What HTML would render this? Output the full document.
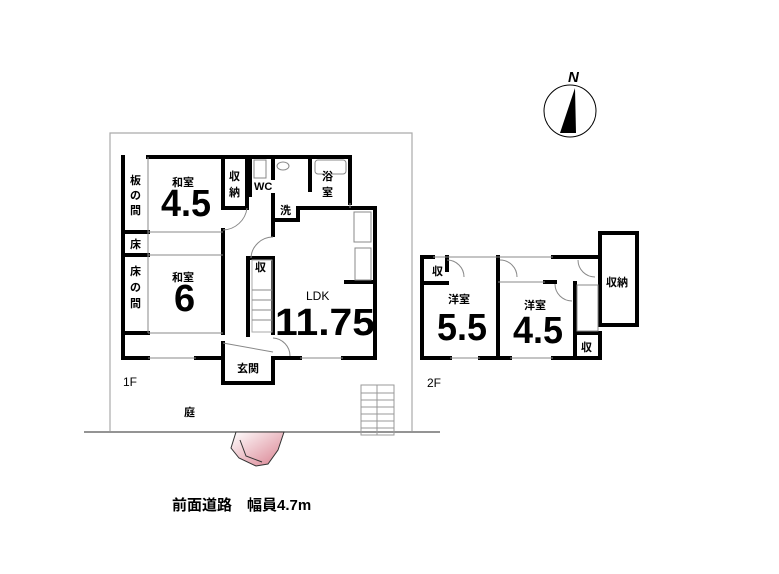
<!DOCTYPE html>
<html><head><meta charset="utf-8"><style>
html,body{margin:0;padding:0;background:#fff;}
svg{display:block;}
text{font-family:"Liberation Sans","Noto Sans CJK JP",sans-serif;fill:#000;}
.b{font-weight:bold;}
</style></head><body>
<svg width="779" height="574" viewBox="0 0 779 574" xmlns="http://www.w3.org/2000/svg">
<rect width="779" height="574" fill="#fff"/>
<polyline points="110,431 110,133 412,133 412,431" fill="none" stroke="#aaa" stroke-width="1.2"/>
<line x1="84" y1="432" x2="440" y2="432" stroke="#555" stroke-width="1.2"/>
<g stroke="#999" stroke-width="1" fill="none">
<rect x="361" y="385" width="33" height="50"/>
<line x1="361" y1="393" x2="394" y2="393"/><line x1="361" y1="400" x2="394" y2="400"/>
<line x1="361" y1="407" x2="394" y2="407"/><line x1="361" y1="414" x2="394" y2="414"/>
<line x1="361" y1="421" x2="394" y2="421"/><line x1="361" y1="428" x2="394" y2="428"/>
<line x1="377" y1="385" x2="377" y2="435"/>
</g>
<defs><linearGradient id="cg" x1="0" y1="0" x2="1" y2="1"><stop offset="0" stop-color="#fff"/><stop offset="1" stop-color="#d9808f"/></linearGradient></defs>
<path d="M236,432 L284,432 L278,450 L268,464 L256,466 L239,458 L231,448 Z" fill="url(#cg)" stroke="#333" stroke-width="1"/>
<path d="M240,440 L246,456 L262,462" fill="none" stroke="#333" stroke-width="1"/>
<g fill="none" stroke="#000" stroke-width="4" stroke-linecap="square">
<polyline points="148,157 350,157 350,203"/>
<polyline points="298,220 273,220 273,235"/>
<line x1="273" y1="195" x2="273" y2="220"/>
<polyline points="298,220 298,208 375,208 375,358 343,358"/>
<polyline points="123,157 123,358 148,358"/>
<line x1="196" y1="358" x2="223" y2="358"/>
<line x1="273" y1="358" x2="300" y2="358"/>
<polyline points="223,343 223,383 273,383 273,358"/>
<line x1="123" y1="232" x2="148" y2="232"/><line x1="123" y1="255" x2="148" y2="255"/>
<line x1="123" y1="333" x2="148" y2="333"/>
<polyline points="223,157 223,208 247,208 247,157"/>
<line x1="223" y1="230" x2="223" y2="333"/>
<polyline points="248,335 248,258 273,258"/>
<line x1="273" y1="258" x2="273" y2="333"/>
<line x1="273" y1="157" x2="273" y2="178"/>
<line x1="250" y1="157" x2="250" y2="195"/>
<line x1="310" y1="157" x2="310" y2="190"/>
<line x1="346" y1="282" x2="375" y2="282"/>
</g>
<g fill="none" stroke="#888" stroke-width="1">
<line x1="148" y1="157" x2="148" y2="333"/>
<line x1="148" y1="232" x2="223" y2="232"/>
<line x1="148" y1="255" x2="223" y2="255"/>
<line x1="148" y1="333" x2="223" y2="333"/>
<line x1="148" y1="358" x2="196" y2="358"/>
<line x1="300" y1="358" x2="343" y2="358"/>
<line x1="223" y1="343" x2="273" y2="352"/>
<line x1="350" y1="203" x2="350" y2="208"/>
<path d="M247,208 A25,25 0 0 1 223,230"/>
<path d="M273,237 A22,22 0 0 0 251,258"/>
<path d="M273,338 A18,18 0 0 1 290,356"/>
<rect x="354" y="212" width="17" height="30"/>
<rect x="355" y="248" width="16" height="32"/>
<rect x="252" y="260" width="20" height="72" stroke="#aaa"/>
<line x1="252" y1="290" x2="272" y2="290"/><line x1="252" y1="300" x2="272" y2="300"/>
<line x1="252" y1="310" x2="272" y2="310"/><line x1="252" y1="320" x2="272" y2="320"/>
<rect x="254" y="160" width="12" height="18"/>
<ellipse cx="283" cy="166" rx="6" ry="4"/>
<rect x="315" y="160" width="31" height="14" rx="3"/>
</g>
<g fill="none" stroke="#000" stroke-width="4" stroke-linecap="square">
<polyline points="433,257 422,257 422,358 450,358"/>
<line x1="480" y1="358" x2="510" y2="358"/>
<polyline points="553,358 600,358 600,333 575,333"/>
<line x1="575" y1="283" x2="575" y2="358"/>
<line x1="553" y1="257" x2="600" y2="257"/>
<line x1="498" y1="257" x2="498" y2="358"/>
<line x1="422" y1="283" x2="447" y2="283"/>
<line x1="447" y1="257" x2="447" y2="270"/>
<line x1="545" y1="282" x2="555" y2="282"/>
<rect x="600" y="233" width="37" height="92"/>
</g>
<g fill="none" stroke="#888" stroke-width="1">
<line x1="433" y1="257" x2="553" y2="257"/>
<line x1="450" y1="358" x2="480" y2="358"/>
<line x1="510" y1="358" x2="553" y2="358"/>
<line x1="498" y1="282" x2="545" y2="282"/>
<rect x="577" y="285" width="21" height="46"/>
<path d="M447,260 A17,17 0 0 1 464,277"/>
<path d="M500,260 A17,17 0 0 1 517,277"/>
<path d="M555,284 A17,17 0 0 0 572,301"/>
<path d="M578,260 A17,17 0 0 0 595,277"/>
</g>
<circle cx="570" cy="111" r="26" fill="none" stroke="#000" stroke-width="1"/>
<polygon points="575,88 576,133 560,133" fill="#000"/>
<text x="568" y="82" font-size="15" class="b" font-style="italic">N</text>
<g font-size="11" class="b">
<text x="172" y="186">和室</text>
<text x="172" y="281">和室</text>
<text x="130" y="184">板</text><text x="130" y="199">の</text><text x="130" y="214">間</text>
<text x="130" y="248">床</text>
<text x="130" y="275">床</text><text x="130" y="291">の</text><text x="130" y="307">間</text>
<text x="229" y="180">収</text><text x="229" y="196">納</text>
<text x="254" y="190">WC</text>
<text x="322" y="180">浴</text><text x="322" y="196">室</text>
<text x="280" y="214">洗</text>
<text x="255" y="271">収</text>
<text x="237" y="372">玄関</text>
<text x="432" y="275">収</text>
<text x="448" y="303">洋室</text>
<text x="524" y="309">洋室</text>
<text x="581" y="351">収</text>
<text x="606" y="286">収納</text>
<text x="184" y="416">庭</text>
</g>
<text x="306" y="300" font-size="12">LDK</text>
<text x="123" y="386" font-size="12">1F</text>
<text x="427" y="387" font-size="12">2F</text>
<g font-size="38" class="b">
<text x="161" y="216" textLength="50" lengthAdjust="spacingAndGlyphs">4.5</text>
<text x="174" y="311">6</text>
<text x="275" y="335" textLength="100" lengthAdjust="spacingAndGlyphs">11.75</text>
<text x="437" y="340" textLength="50" lengthAdjust="spacingAndGlyphs">5.5</text>
<text x="513" y="343" textLength="50" lengthAdjust="spacingAndGlyphs">4.5</text>
</g>
<text x="172" y="510" font-size="15" class="b">前面道路　幅員4.7m</text>
</svg>
</body></html>
